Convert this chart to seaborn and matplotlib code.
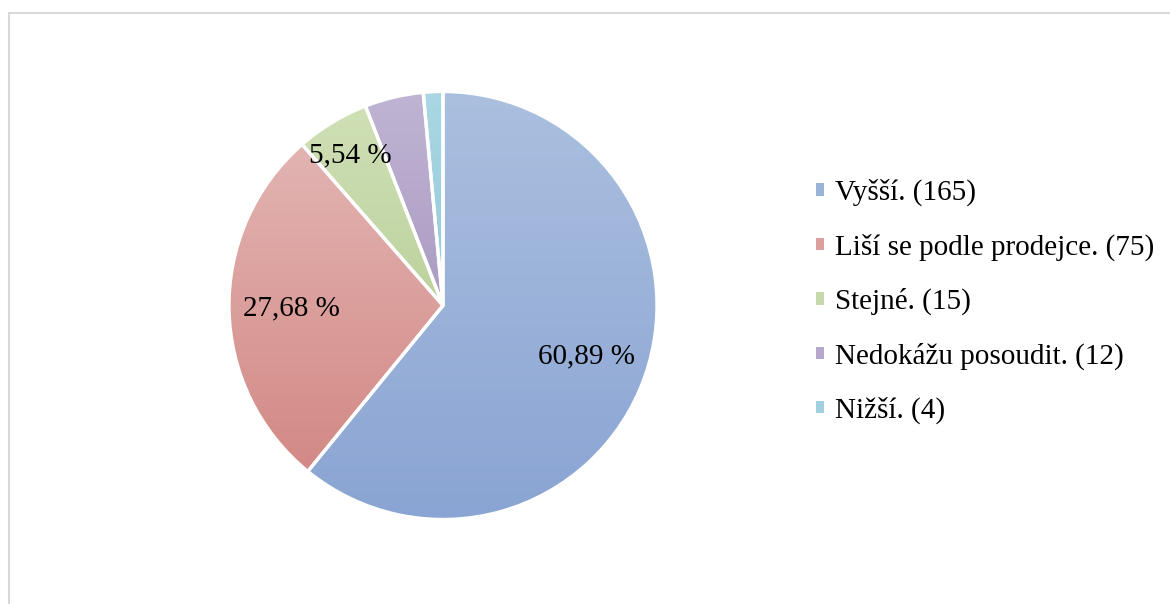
# Pie chart: Vyšší / Liší se podle prodejce / Stejné / Nedokážu posoudit / Nižší

import numpy as np
import matplotlib
matplotlib.use('Agg')
import matplotlib.pyplot as plt
import seaborn as sns
from matplotlib.colors import LinearSegmentedColormap, to_rgb
from matplotlib.patches import Patch, Rectangle

# Data
categories = ['Vyšší.', 'Liší se podle prodejce.', 'Stejné.', 'Nedokážu posoudit.', 'Nižší.']
counts = [165, 75, 15, 12, 4]
# gradient colours per slice (top, bottom)
colors_top = ['#abc0df', '#e2b4b2', '#cfe0b6', '#c0b4d3', '#aad7e3']
colors_bottom = ['#8aa4d3', '#d38985', '#bdd29e', '#ab9cc3', '#96c9d9']

sns.set_theme(style='white')
plt.rcParams['font.family'] = ['Liberation Serif', 'DejaVu Serif']
plt.rcParams['text.color'] = 'black'

fig = plt.figure(figsize=(11.7, 6.04), dpi=100)
W, H = 1170, 604
cx, cy, r = 443, 305.5, 214
ax = fig.add_axes([(cx - r) / W, (H - cy - r) / H, 2 * r / W, 2 * r / H])

def pct_label(pct):
    if pct < 5:
        return ''
    return f'{pct:.2f} %'.replace('.', ',')

mid_colors = [tuple((np.array(to_rgb(a)) + np.array(to_rgb(b))) / 2)
              for a, b in zip(colors_top, colors_bottom)]

wedges, texts, autotexts = ax.pie(
    counts, colors=mid_colors, startangle=90, counterclock=False,
    radius=1, autopct=pct_label, pctdistance=0.71,
    wedgeprops=dict(edgecolor='white', linewidth=2.4),
    textprops=dict(fontsize=21, color='black'))

# vertical gradient fill clipped to each wedge
grad = np.linspace(0, 1, 256).reshape(-1, 1)
for w, ct, cb in zip(wedges, colors_top, colors_bottom):
    ext = w.get_path().get_extents()
    cmap = LinearSegmentedColormap.from_list('g', [ct, cb])
    im = ax.imshow(grad, cmap=cmap, aspect='auto',
                   extent=[ext.x0, ext.x1, ext.y0, ext.y1], origin='upper', zorder=0.5)
    im.set_clip_path(w)
    w.set_facecolor('none')
    w.set_zorder(1)

# the small slice label sits further out
w = wedges[2]
ang = np.deg2rad((w.theta1 + w.theta2) / 2)
autotexts[2].set_position((0.84 * np.cos(ang), 0.82 * np.sin(ang)))
for t in autotexts:
    t.set_zorder(3)

ax.set_xlim(-1, 1)
ax.set_ylim(-1, 1)
ax.set_aspect('auto')
ax.axis('off')

handles = [Patch(facecolor=c, edgecolor='none') for c in mid_colors]
labels = [f'{c} ({n})' for c, n in zip(categories, counts)]
fig.legend(handles, labels, loc='upper left', bbox_to_anchor=(816 / W, 1 - 179 / H),
           frameon=False, fontsize=21, handlelength=0.27, handleheight=0.27,
           handletextpad=0.38, labelspacing=0.93, borderpad=0, borderaxespad=0,
           labelcolor='black')

# thin grey frame around the chart area
fig.add_artist(Rectangle((8.5 / W, -0.1), 2, (H - 12.5) / H + 0.1, transform=fig.transFigure,
                         fill=False, edgecolor='#d9d9d9', linewidth=1.5))

plt.savefig('out.png', dpi=100)
